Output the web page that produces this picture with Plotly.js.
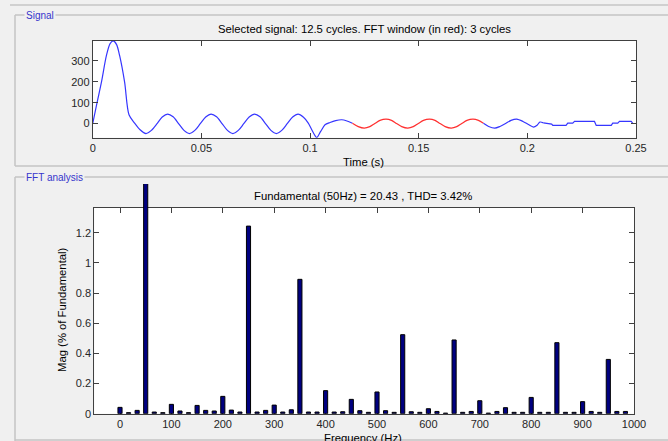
<!DOCTYPE html>
<html>
<head>
<meta charset="utf-8">
<script src="https://cdn.plot.ly/plotly-3.0.1.min.js"></script>
<style>
html,body{margin:0;padding:0;background:#f0f0f0;}
#chart{width:668px;height:441px;}
</style>
</head>
<body>
<div id="chart"></div>
<script>
// ---- Signal (time in s, value) ----
const signalTime = [0, 0.002, 0.004, 0.0063, 0.008, 0.0095, 0.011, 0.0124, 0.0147, 0.0167,
  0.0193, 0.0218, 0.0245, 0.027, 0.0295, 0.032, 0.0345, 0.037, 0.0395, 0.042,
  0.0445, 0.047, 0.0495, 0.052, 0.0545, 0.057, 0.0595, 0.062, 0.0645, 0.067,
  0.0695, 0.072, 0.0745, 0.077, 0.0795, 0.082, 0.0845, 0.087, 0.0895, 0.092,
  0.0945, 0.097, 0.0992, 0.1008, 0.1031, 0.1049, 0.1069, 0.1092, 0.1118, 0.1146,
  0.117, 0.1195, 0.1222, 0.125, 0.1275, 0.1298, 0.1322, 0.135, 0.1375, 0.1398,
  0.1422, 0.145, 0.1475, 0.1498, 0.1522, 0.155, 0.1575, 0.1598, 0.1622, 0.165,
  0.1675, 0.1698, 0.1722, 0.175, 0.1775, 0.1798, 0.1822, 0.185, 0.1874, 0.19,
  0.1925, 0.1951, 0.198, 0.2005, 0.2028, 0.2045, 0.2058, 0.2074,
  0.2112, 0.2117, 0.2178, 0.2186, 0.2209, 0.2217, 0.2309, 0.2317, 0.2386, 0.2393,
  0.2416, 0.2424, 0.2478, 0.2486, 0.25];
const signalValue = [0, 100, 197, 325, 383, 396, 378, 325, 197, 42,
  2, -30, -48, -33, -2, 31, 45, 32, 0, -33,
  -48, -33, -1, 31, 45, 32, 0, -33, -48, -33,
  -1, 31, 45, 32, 0, -33, -48, -33, -1, 31,
  45, 30, 2, -30, -67, -38, -6, 5, 14, 18,
  12, 1, -15, -22, -15, 0, 15, 21, 15, 0,
  -15, -22, -15, 0, 15, 21, 15, 0, -15, -22,
  -15, 0, 15, 21, 15, 1, -14, -22, -14, 0,
  15, 21, 10, -5, -17, -8, 7, 3,
  -3, -9, -9, 2, 2, 10, 10, -9, -9, 2,
  2, 10, 10, 0, 0];
const fftWindowStart = 0.1195;
const fftWindowEnd = 0.1798;
const stepStart = 0.2074;

// ---- FFT ----
const freqHz = [0, 16.67, 33.33, 50, 66.67, 83.33, 100, 116.67, 133.33, 150,
  166.67, 183.33, 200, 216.67, 233.33, 250, 266.67, 283.33, 300, 316.67,
  333.33, 350, 366.67, 383.33, 400, 416.67, 433.33, 450, 466.67, 483.33,
  500, 516.67, 533.33, 550, 566.67, 583.33, 600, 616.67, 633.33, 650,
  666.67, 683.33, 700, 716.67, 733.33, 750, 766.67, 783.33, 800, 816.67,
  833.33, 850, 866.67, 883.33, 900, 916.67, 933.33, 950, 966.67, 983.33];
const magPct = [0.042, 0.007, 0.022, 100, 0.011, 0.007, 0.062, 0.018, 0.007, 0.055,
  0.022, 0.018, 0.115, 0.024, 0.011, 1.244, 0.011, 0.022, 0.057, 0.011,
  0.026, 0.891, 0.011, 0.011, 0.153, 0.011, 0.013, 0.095, 0.020, 0.009,
  0.144, 0.020, 0.009, 0.524, 0.013, 0.009, 0.033, 0.015, 0.004, 0.489,
  0.009, 0.015, 0.086, 0.004, 0.015, 0.040, 0.009, 0.009, 0.108, 0.009,
  0.009, 0.471, 0.009, 0.009, 0.080, 0.015, 0.009, 0.360, 0.015, 0.015];

const signalTitle = 'Selected signal: 12.5 cycles. FFT window (in red): 3 cycles';
const fftTitle = 'Fundamental (50Hz) = 20.43 , THD= 3.42%';
const xTitleTop = 'Time (s)';
const xTitleBottom = 'Frequency (Hz)';
const yTitleBottom = 'Mag (% of Fundamental)';
const panelSignal = 'Signal';
const panelFFT = 'FFT analysis';

// ---- geometry helpers (pixels -> paper) ----
const W = 668, H = 441;
const px = v => v / W;
const py = v => 1 - v / H;

const seg = (lo, hi) => {
  const xs = [], ys = [];
  signalTime.forEach((t, i) => { if (t >= lo && t <= hi) { xs.push(t); ys.push(signalValue[i]); } });
  return [xs, ys];
};
const [b1T, b1V] = seg(0, fftWindowStart);
const [rT, rV] = seg(fftWindowStart, fftWindowEnd);
const [b2T, b2V] = seg(fftWindowEnd, stepStart);
const [tT, tV] = seg(stepStart, 1);

const blue = '#3636ff';
const red = '#ff3030';

const traces = [
  {x: b1T, y: b1V, type: 'scatter', mode: 'lines', xaxis: 'x', yaxis: 'y',
   line: {color: blue, width: 1.2, shape: 'spline', smoothing: 0.8}, hoverinfo: 'skip'},
  {x: rT, y: rV, type: 'scatter', mode: 'lines', xaxis: 'x', yaxis: 'y',
   line: {color: red, width: 1.2, shape: 'spline', smoothing: 0.8}, hoverinfo: 'skip'},
  {x: b2T, y: b2V, type: 'scatter', mode: 'lines', xaxis: 'x', yaxis: 'y',
   line: {color: blue, width: 1.2, shape: 'spline', smoothing: 0.8}, hoverinfo: 'skip'},
  {x: tT, y: tV, type: 'scatter', mode: 'lines', xaxis: 'x', yaxis: 'y',
   line: {color: blue, width: 1.2}, hoverinfo: 'skip'},
  // empty trace so the framed FFT axes (x2/y2) form their own subplot
  {x: [], y: [], type: 'scatter', mode: 'lines', xaxis: 'x2', yaxis: 'y2', hoverinfo: 'skip'},
  {x: freqHz, y: magPct, type: 'bar', xaxis: 'x2', yaxis: 'y3', width: 8,
   marker: {color: '#000080', line: {color: '#000000', width: 1}}, hoverinfo: 'skip'}
];

const axCol = '#404040';
const tickFont = {family: 'Arial, "Liberation Sans", sans-serif', size: 11, color: '#262626'};
const axisCommon = {
  showgrid: false, zeroline: false, showline: true, linecolor: axCol, linewidth: 1,
  mirror: 'ticks', ticks: 'inside', ticklen: 5, tickcolor: axCol, tickwidth: 1,
  tickfont: tickFont, fixedrange: true
};

// bottom plot geometry
const b = {l: 94.3, r: 634, t: 207.7, bt: 413.7};
const yTop2 = 1.366;
const tallTop = 184;
const tallRange = yTop2 * (b.bt - tallTop) / (b.bt - b.t);

const layout = {
  width: W, height: H,
  margin: {l: 0, r: 0, t: 0, b: 0, pad: 0},
  paper_bgcolor: '#f0f0f0',
  plot_bgcolor: 'rgba(0,0,0,0)',
  showlegend: false,
  font: {family: 'Arial, "Liberation Sans", sans-serif', size: 11, color: '#000'},
  bargap: 0,
  xaxis: Object.assign({}, axisCommon, {domain: [px(92.7), px(636)], range: [0, 0.25],
    dtick: 0.05, tick0: 0, anchor: 'y'}),
  yaxis: Object.assign({}, axisCommon, {domain: [py(137.7), py(40.7)], range: [-68, 397],
    dtick: 100, tick0: 0, anchor: 'x'}),
  xaxis2: Object.assign({}, axisCommon, {domain: [px(b.l), px(b.r)], range: [-50, 1000],
    dtick: 100, tick0: 0, anchor: 'y2'}),
  yaxis2: Object.assign({}, axisCommon, {domain: [py(b.bt), py(b.t)], range: [0, yTop2],
    dtick: 0.2, tick0: 0, anchor: 'x2'}),
  yaxis3: {domain: [py(b.bt), py(tallTop)], range: [0, tallRange], anchor: 'x2',
    showline: false, showticklabels: false, ticks: '', showgrid: false, zeroline: false, fixedrange: true},
  shapes: [
    {type: 'rect', xref: 'paper', yref: 'paper', x0: px(92.7), x1: px(636), y0: py(137.7), y1: py(40.7),
     fillcolor: '#ffffff', line: {width: 0}, layer: 'below'},
    {type: 'rect', xref: 'paper', yref: 'paper', x0: px(b.l), x1: px(b.r), y0: py(b.bt), y1: py(b.t),
     fillcolor: '#ffffff', line: {width: 0}, layer: 'below'},
    {type: 'line', xref: 'paper', yref: 'paper', x0: px(10), x1: 1, y0: py(5), y1: py(5),
     line: {color: '#d0d0d0', width: 2}, layer: 'below'},
    {type: 'line', xref: 'paper', yref: 'paper', x0: px(15), x1: 1, y0: py(15), y1: py(15),
     line: {color: '#c4c4c4', width: 1.5}, layer: 'below'},
    {type: 'line', xref: 'paper', yref: 'paper', x0: px(15), x1: px(15), y0: py(15), y1: py(166),
     line: {color: '#c4c4c4', width: 1.5}, layer: 'below'},
    {type: 'line', xref: 'paper', yref: 'paper', x0: px(15), x1: 1, y0: py(166), y1: py(166),
     line: {color: '#c4c4c4', width: 1.5}, layer: 'below'},
    {type: 'line', xref: 'paper', yref: 'paper', x0: px(15), x1: 1, y0: py(177), y1: py(177),
     line: {color: '#c4c4c4', width: 1.5}, layer: 'below'},
    {type: 'line', xref: 'paper', yref: 'paper', x0: px(15), x1: px(15), y0: py(177), y1: py(441),
     line: {color: '#c4c4c4', width: 1.5}, layer: 'below'},
    {type: 'line', xref: 'paper', yref: 'paper', x0: px(15), x1: 1, y0: py(440), y1: py(440),
     line: {color: '#c4c4c4', width: 1.5}, layer: 'below'}
  ],
  annotations: [
    {text: signalTitle, xref: 'paper', yref: 'paper', x: px(364), y: py(29), xanchor: 'center', yanchor: 'middle',
     showarrow: false, font: {size: 11.3, color: '#000'}},
    {text: xTitleTop, xref: 'paper', yref: 'paper', x: px(363), y: py(162), xanchor: 'center', yanchor: 'middle',
     showarrow: false, font: {size: 11.3, color: '#000'}},
    {text: fftTitle, xref: 'paper', yref: 'paper', x: px(363), y: py(196), xanchor: 'center', yanchor: 'middle',
     showarrow: false, font: {size: 11.3, color: '#000'}},
    {text: xTitleBottom, xref: 'paper', yref: 'paper', x: px(363), y: py(430), xanchor: 'center', yanchor: 'top',
     showarrow: false, font: {size: 11.3, color: '#000'}},
    {text: yTitleBottom, xref: 'paper', yref: 'paper', x: px(62), y: py(310), xanchor: 'center', yanchor: 'middle',
     textangle: -90, showarrow: false, font: {size: 11.3, color: '#000'}},
    {text: panelSignal, xref: 'paper', yref: 'paper', x: px(24), y: py(15), xanchor: 'left', yanchor: 'middle',
     showarrow: false, bgcolor: '#f0f0f0', borderpad: 1, font: {size: 10, color: '#3535cc'}},
    {text: panelFFT, xref: 'paper', yref: 'paper', x: px(24), y: py(177), xanchor: 'left', yanchor: 'middle',
     showarrow: false, bgcolor: '#f0f0f0', borderpad: 1, font: {size: 10, color: '#3535cc'}}
  ]
};

Plotly.newPlot('chart', traces, layout, {displayModeBar: false, staticPlot: true});
</script>
</body>
</html>
